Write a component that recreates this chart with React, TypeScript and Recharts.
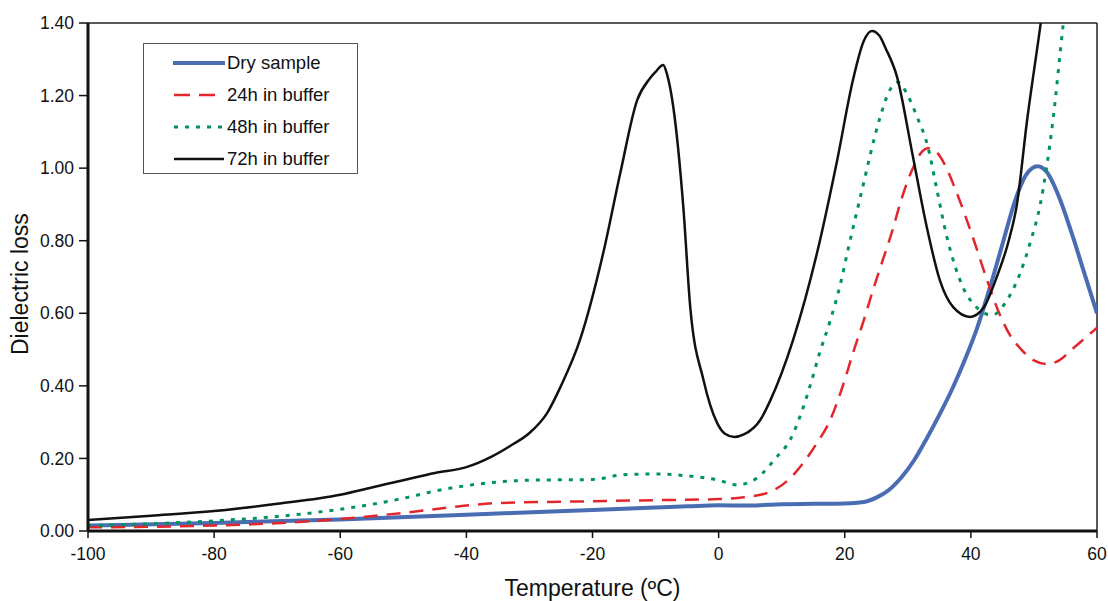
import React from 'react'
import { LineChart, Line, XAxis, YAxis, ReferenceLine } from 'recharts'

// temperature (ºC) / dielectric loss pairs
const drySample = [
  [-100, 0.015], [-80, 0.022], [-60, 0.032], [-40, 0.045], [-20, 0.058], [-10, 0.065],
  [-5, 0.068], [0, 0.071], [5, 0.07], [10, 0.074], [15, 0.075], [20, 0.076], [23, 0.08],
  [25, 0.092], [27, 0.113], [29, 0.148], [31, 0.195], [33, 0.255], [35, 0.32], [37, 0.39],
  [39, 0.47], [41, 0.56], [43, 0.67], [45, 0.79], [47, 0.91], [48.7, 0.98], [50.6, 1.005],
  [52, 0.99], [54, 0.92], [56, 0.82], [58, 0.71], [60, 0.6],
]

const buffer24h = [
  [-100, 0.01], [-80, 0.015], [-60, 0.033], [-50, 0.05], [-40, 0.07], [-35, 0.077],
  [-20, 0.082], [-10, 0.085], [0, 0.088], [4, 0.093], [8, 0.107], [11, 0.14], [13.4, 0.187],
  [15.5, 0.24], [17.7, 0.306], [19.5, 0.39], [21.3, 0.49], [23, 0.58], [24.5, 0.665],
  [26, 0.745], [27.5, 0.825], [29, 0.915], [30.8, 1.0], [32, 1.04], [33.2, 1.055],
  [34.5, 1.045], [36, 1.005], [37.8, 0.93], [40.3, 0.81], [42.6, 0.69], [44.5, 0.6],
  [46.2, 0.54], [48, 0.5], [50, 0.47], [52, 0.46], [54, 0.47], [56, 0.5], [58, 0.53], [60, 0.56],
]

const buffer48h = [
  [-100, 0.015], [-90, 0.02], [-80, 0.028], [-70, 0.04], [-60, 0.06], [-50, 0.09],
  [-45, 0.11], [-40, 0.125], [-35, 0.135], [-30, 0.14], [-20, 0.142], [-15, 0.155],
  [-10, 0.157], [-5, 0.152], [0, 0.14], [2.9, 0.127], [5, 0.135], [7, 0.16], [9, 0.2],
  [11.3, 0.25], [13, 0.32], [14.5, 0.4], [16, 0.49], [17.7, 0.58], [19.3, 0.68],
  [20.4, 0.766], [22.6, 0.93], [25.6, 1.14], [27, 1.21], [28.4, 1.237], [30, 1.2], [31.5, 1.14],
  [33.2, 1.058], [34.5, 0.95], [36.2, 0.81], [38.8, 0.67], [41, 0.615], [43.4, 0.595],
  [45.5, 0.63], [47.8, 0.71], [49.5, 0.8], [51, 0.9], [53, 1.13], [54.6, 1.39], [56, 1.6],
]

const buffer72h = [
  [-100, 0.03], [-90, 0.042], [-80, 0.055], [-70, 0.075], [-60, 0.1], [-55, 0.12],
  [-50, 0.14], [-45, 0.16], [-40, 0.176], [-36, 0.205], [-33, 0.235], [-30, 0.27],
  [-27.2, 0.325], [-25, 0.4], [-22, 0.526], [-18.3, 0.766], [-15.6, 0.986], [-12.9, 1.188],
  [-11, 1.245], [-10, 1.265], [-8.8, 1.284], [-8.2, 1.26], [-7.2, 1.17], [-5.6, 0.893],
  [-4.5, 0.617], [-2.4, 0.416], [-0.3, 0.3], [1, 0.268], [2.5, 0.259], [4, 0.266],
  [6.6, 0.306], [8.2, 0.36], [11.8, 0.526], [15.6, 0.766], [18.8, 1.022], [21.3, 1.243],
  [23, 1.35], [24.3, 1.378], [25.5, 1.365], [26.5, 1.33], [28.3, 1.251], [30.7, 1.042],
  [33, 0.838], [35.1, 0.69], [37.2, 0.617], [39.9, 0.59], [42, 0.615], [44.1, 0.7],
  [46, 0.8], [47.3, 0.9], [48.9, 1.13], [51, 1.39], [52, 1.52],
]

const xTicks = [-100, -80, -60, -40, -20, 0, 20, 40, 60]
const yTicks = [0, 0.2, 0.4, 0.6, 0.8, 1.0, 1.2, 1.4]

const toRows = (pts: number[][]) => pts.map(([t, loss]) => ({ t, loss }))

const series = [
  { name: 'Dry sample', data: drySample, color: '#4a6cb3', width: 4, dash: undefined },
  { name: '24h in buffer', data: buffer24h, color: '#e2262b', width: 2.5, dash: '14 9' },
  { name: '48h in buffer', data: buffer48h, color: '#00945a', width: 3, dash: '4 7' },
  { name: '72h in buffer', data: buffer72h, color: '#111111', width: 2.5, dash: undefined },
]

const font = 'Arial, "Liberation Sans", Helvetica, sans-serif'

function XTick(props: any) {
  const { x, y, payload } = props
  return (
    <text x={x} y={y} dy={17} textAnchor="middle" fontSize={17.5} fill="#111" fontFamily={font}>
      {payload.value}
    </text>
  )
}

function LegendBox() {
  return (
    <div style={{ position: 'absolute', left: 143, top: 43, width: 215, height: 131, border: '1px solid #555', background: '#fff', boxSizing: 'border-box', paddingTop: 3 }}>
      {series.map(s => (
        <div key={s.name} style={{ display: 'flex', alignItems: 'center', height: 32, paddingLeft: 29 }}>
          <svg width={52} height={8}>
            <line x1={1} y1={4} x2={51} y2={4} stroke={s.color} strokeWidth={s.width} strokeDasharray={s.dash === '14 9' ? '16 9' : s.dash} strokeLinecap={s.width === 4 ? 'round' : 'butt'} />
          </svg>
          <span style={{ fontFamily: font, fontSize: 18.5, color: '#111', marginLeft: 2 }}>{s.name}</span>
        </div>
      ))}
    </div>
  )
}

export default function App() {
  return (
    <div style={{ position: 'absolute', left: 0, top: 0, width: 1108, height: 601, background: '#fff' }}>
      <LineChart width={1108} height={601} margin={{ top: 23, right: 11, left: 0, bottom: 0 }}>
        <XAxis
          type="number"
          dataKey="t"
          domain={[-100, 60]}
          ticks={xTicks}
          allowDataOverflow
          height={70}
          axisLine={{ stroke: '#111', strokeWidth: 3 }}
          tickLine={{ stroke: '#111', strokeWidth: 1.5 }}
          tickSize={7}
          tickMargin={5}
          tick={<XTick />}
          label={{ value: 'Temperature (ºC)', position: 'insideBottom', offset: 0, dy: -5, style: { fontSize: 23, fill: '#111', fontFamily: font } }}
        />
        <YAxis
          type="number"
          domain={[0, 1.4]}
          ticks={yTicks}
          allowDataOverflow
          width={88}
          axisLine={{ stroke: '#111', strokeWidth: 3 }}
          tickLine={{ stroke: '#111', strokeWidth: 1.5 }}
          tickSize={9}
          tickMargin={5}
          tickFormatter={(v: number) => v.toFixed(2)}
          tick={{ fontSize: 17.5, fill: '#111', fontFamily: font }}
          label={{ value: 'Dielectric loss', angle: -90, position: 'insideLeft', offset: 20, dy: 78, style: { fontSize: 23, fill: '#111', fontFamily: font } }}
        />
        <ReferenceLine y={1.4} stroke="#222" strokeWidth={1.5} />
        <ReferenceLine x={60} stroke="#222" strokeWidth={1.5} />
        {series.map(s => (
          <Line
            key={s.name}
            name={s.name}
            data={toRows(s.data)}
            dataKey="loss"
            type="monotone"
            stroke={s.color}
            strokeWidth={s.width}
            strokeDasharray={s.dash}
            dot={false}
            activeDot={false}
            isAnimationActive={false}
          />
        ))}
      </LineChart>
      <LegendBox />
    </div>
  )
}
